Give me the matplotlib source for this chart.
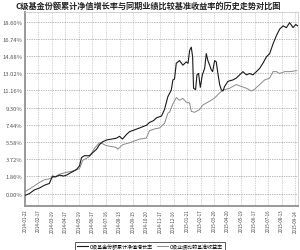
"""C-class fund cumulative NAV growth vs. benchmark return, history comparison."""

import matplotlib
matplotlib.use("Agg")
import matplotlib.pyplot as plt

plt.rcParams["font.family"] = ["Noto Sans CJK SC", "DejaVu Sans"]

TITLE = "C级基金份额累计净值增长率与同期业绩比较基准收益率的历史走势对比图"
FUND_LABEL = "C级基金份额累计净值增长率"
BENCH_LABEL = "C级业绩比较基准收益率"

DATE_LABELS = [
    "2014-01-22", "2014-02-17", "2014-03-19", "2014-04-17", "2014-05-19",
    "2014-06-17", "2014-07-16", "2014-08-13", "2014-09-15", "2014-10-20",
    "2014-11-17", "2014-12-16", "2015-01-21", "2015-02-17", "2015-03-20",
    "2015-04-20", "2015-05-19", "2015-06-17", "2015-07-16", "2015-08-13",
    "2015-09-14",
]
Y_TICKS = [0.00, 1.86, 3.72, 5.58, 7.44, 9.30, 11.16, 13.02, 14.88, 16.74, 18.60]

# x in units of date-label intervals, y in percent
FUND_X = [
    0.00, 0.33, 0.70, 1.07, 1.44, 1.81, 2.04, 2.26, 2.56, 2.85, 3.07, 3.44,
    3.81, 4.04, 4.19, 4.41, 4.78, 5.00, 5.30, 5.52, 5.74, 6.04, 6.41, 6.78,
    7.00, 7.22, 7.52, 7.74, 8.11, 8.48, 9.00, 9.22, 9.52, 9.74, 10.11, 10.33,
    10.58, 10.83, 10.95, 11.07, 11.20, 11.44, 11.69, 11.94, 12.07, 12.19,
    12.31, 12.41, 12.48, 12.63, 12.73, 12.85, 12.98, 13.13, 13.30, 13.42,
    13.54, 13.67, 13.79, 13.89, 14.04, 14.16, 14.28, 14.41, 14.53, 14.65,
    14.78, 15.02, 15.39, 15.64, 15.89, 16.13, 16.39, 16.63, 16.87, 17.13,
    17.37, 17.61, 17.87, 18.11, 18.36, 18.61, 18.85, 19.10, 19.35, 19.59,
    19.84, 20.04, 20.19,
]
FUND_Y = [
    -0.20, 0.00, 0.40, 0.60, 0.90, 1.10, 1.90, 1.80, 2.00, 1.90, 2.00, 2.30,
    2.60, 3.00, 3.90, 4.10, 4.10, 4.40, 4.80, 5.30, 5.60, 5.80, 5.90, 6.00,
    6.20, 5.90, 6.40, 6.70, 6.90, 7.10, 7.40, 7.70, 7.90, 8.20, 8.40, 9.10,
    10.50, 11.20, 12.30, 12.40, 14.10, 14.40, 13.90, 14.25, 14.10, 15.50,
    15.85, 14.80, 11.40, 11.25, 12.85, 13.00, 11.50, 12.85, 13.55, 15.15,
    14.40, 13.90, 13.40, 13.20, 14.40, 14.25, 13.00, 11.80, 11.25, 11.10,
    11.60, 12.15, 12.30, 12.50, 12.85, 13.20, 12.85, 13.00, 12.85, 13.20,
    13.55, 14.10, 14.80, 15.15, 16.20, 17.10, 17.80, 18.15, 17.96, 18.50,
    17.96, 18.30, 18.15,
]
BENCH_X = [
    0.00, 0.56, 1.07, 1.44, 1.81, 2.19, 2.56, 3.05, 3.44, 4.04, 4.28, 4.78,
    5.15, 5.52, 5.74, 6.01, 6.39, 6.76, 6.87, 7.24, 7.74, 8.11, 8.48, 8.98,
    9.22, 9.59, 9.96, 10.33, 10.58, 10.70, 10.95, 11.20, 11.44, 11.69, 11.94,
    12.19, 12.31, 12.56, 12.93, 13.17, 13.67, 14.04, 14.41, 14.65, 15.15,
    15.64, 16.01, 16.39, 16.76, 17.00, 17.37, 17.74, 18.11, 18.36, 18.61,
    18.85, 19.22, 19.59, 20.11,
]
BENCH_Y = [
    0.20, 0.70, 1.20, 1.50, 1.60, 1.80, 2.10, 2.30, 2.40, 2.70, 3.60, 4.00,
    4.90, 5.50, 5.40, 5.20, 5.10, 5.00, 4.80, 5.30, 5.50, 5.70, 5.90, 6.00,
    6.80, 7.00, 7.10, 7.60, 8.70, 8.80, 9.70, 10.40, 10.10, 10.30, 9.90,
    9.80, 8.90, 8.80, 9.10, 9.60, 10.00, 10.35, 10.90, 11.20, 11.40, 11.80,
    11.60, 11.40, 11.10, 11.30, 11.80, 12.30, 12.50, 13.20, 13.20, 13.00,
    13.20, 13.20, 13.30,
]

fig = plt.figure(figsize=(3.0, 2.51), dpi=100, facecolor="white")
ax = fig.add_axes([0.083, 0.175, 0.91, 0.772])

ax.plot(BENCH_X, BENCH_Y, color="#8a8a8a", linewidth=0.7, label=BENCH_LABEL, zorder=3)
ax.plot(FUND_X, FUND_Y, color="#1a1a1a", linewidth=0.8, label=FUND_LABEL, zorder=4)

ax.set_xlim(0, 20.2)
ax.set_ylim(-1.35, 19.62)
ax.set_xticks(range(len(DATE_LABELS)))
ax.set_xticklabels(DATE_LABELS, rotation=90, fontsize=3.2, color="#444444")
ax.set_yticks(Y_TICKS)
ax.set_yticklabels([f"{v:.2f}%" for v in Y_TICKS], fontsize=4.2, color="#555555")
ax.tick_params(length=0, pad=2)

ax.grid(axis="y", color="#777777", linestyle=(0, (1, 1.5)), linewidth=0.5)
ax.grid(axis="x", color="#aaaaaa", linestyle=(0, (1, 1.5)), linewidth=0.5)
ax.set_axisbelow(True)
for side in ("left", "bottom"):
    ax.spines[side].set_color("#999999")
    ax.spines[side].set_linewidth(1.4)
for side in ("top", "right"):
    ax.spines[side].set_color("#cccccc")
    ax.spines[side].set_linewidth(0.6)

fig.text(0.495, 0.975, TITLE, ha="center", va="center", fontsize=5.9,
         fontweight="bold", color="#222222")

handles, labels = ax.get_legend_handles_labels()
leg = fig.legend(handles[::-1], labels[::-1], loc="lower center",
                 bbox_to_anchor=(0.5, -0.012), ncol=2, fontsize=3.6,
                 frameon=True, fancybox=False, edgecolor="#111111",
                 handlelength=2.2, handletextpad=0.4, columnspacing=0.8,
                 borderpad=0.3)
leg.get_frame().set_linewidth(0.6)

fig.savefig("out.png", dpi=100, facecolor="white")
